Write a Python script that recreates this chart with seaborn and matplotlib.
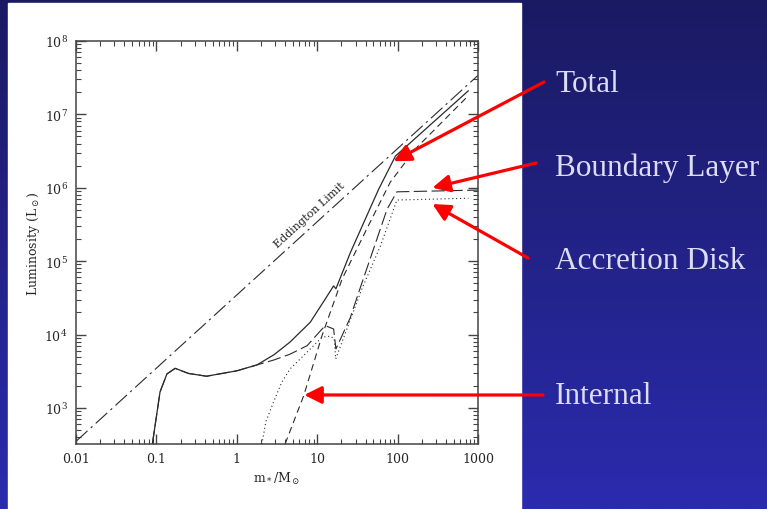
"""Stellar luminosity vs. protostellar mass slide: log-log curves with labelled arrows."""
import matplotlib.pyplot as plt
import numpy as np
import seaborn as sns
from matplotlib.patches import Rectangle

# Eddington limit
m_edd = [0.01, 1000]
L_edd = [350, 3.4e7]

# Total luminosity
m_total = [0.089, 0.111, 0.135, 0.171, 0.25, 0.42, 1.0, 1.78, 2.9, 4.6, 8.2, 12.6, 16.0, 17.1,
           25.8, 38.6, 58, 94, 760]
L_total = [320, 1650, 2900, 3460, 2950, 2700, 3200, 3850, 5300, 7900, 1.47e4, 3.05e4, 4.6e4, 4.2e4,
           1.3e5, 3.5e5, 9.5e5, 2.7e6, 2.1e7]

# Boundary layer
m_bl = [0.089, 0.111, 0.135, 0.171, 0.25, 0.42, 1.0, 1.78, 2.9, 4.6, 7.5, 11.5, 12.6, 16.0, 17.1,
        25.8, 34, 74, 98, 1000]
L_bl = [320, 1650, 2900, 3460, 2950, 2700, 3200, 3850, 4500, 5400, 7050, 1.19e4, 1.32e4, 1.19e4, 6350,
        1.7e4, 4.2e4, 5.1e5, 8.8e5, 9.3e5]

# Accretion disk
m_ad = [2.05, 2.3, 2.86, 3.6, 4.6, 8.2, 11.5, 14.6, 16.3, 17.0, 36, 61, 98, 760]
L_ad = [320, 650, 1200, 2200, 3400, 6350, 9200, 9500, 8700, 4650, 4.2e4, 1.6e5, 6.8e5, 7.2e5]

# Internal
m_int = [4.0, 6.8, 11.5, 20.4, 41.7, 81, 167, 760]
L_int = [325, 1470, 9700, 5.7e4, 2.8e5, 1.19e6, 3.4e6, 1.8e7]

x_ticks = [0.01, 0.1, 1, 10, 100, 1000]
x_tick_labels = ['0.01', '0.1', '1', '10', '100', '1000']

# slide annotations: label, arrow tip (data coords)
labels = ['Total', 'Boundary Layer', 'Accretion Disk', 'Internal']
tip_m = [89, 271, 271, 6.9]
tip_L = [2.3e6, 1.0e6, 6.0e5, 1500]

W, H = 767, 510


def run():
    sns.set_style('ticks')
    plt.rcParams['font.family'] = ['DejaVu Serif']
    plt.rcParams['mathtext.fontset'] = 'dejavuserif'

    fig = plt.figure(figsize=(W / 100, H / 100), dpi=100)

    # slide background gradient + white panel
    bg = fig.add_axes([0, 0, 1, 1])
    grad = np.linspace(0, 1, 256).reshape(-1, 1)
    bg.imshow(grad, extent=[0, 1, 0, 1], aspect='auto', origin='upper',
              cmap=sns.blend_palette(['#1a1a62', '#2b2bae'], as_cmap=True))
    bg.add_patch(Rectangle((8 / W, 0), 513 / W, 506 / H, color='white', zorder=2))
    bg.set_xlim(0, 1)
    bg.set_ylim(0, 1)
    bg.axis('off')

    ax = fig.add_axes([76 / W, 1 - 445 / H, 402 / W, 403 / H])
    ax.set_xscale('log')
    ax.set_yscale('log')

    lc = '#2a2a2a'
    sns.lineplot(x=m_edd, y=L_edd, ax=ax, color=lc, lw=0.8, linestyle=(0, (14, 4, 2, 4)),
                 sort=False, estimator=None)
    sns.lineplot(x=m_total, y=L_total, ax=ax, color=lc, lw=0.9, sort=False, estimator=None)
    sns.lineplot(x=m_bl, y=L_bl, ax=ax, color=lc, lw=0.8, linestyle=(0, (12, 4)),
                 sort=False, estimator=None)
    sns.lineplot(x=m_ad, y=L_ad, ax=ax, color=lc, lw=0.8, linestyle=(0, (1, 2.5)),
                 sort=False, estimator=None)
    sns.lineplot(x=m_int, y=L_int, ax=ax, color=lc, lw=0.8, linestyle=(0, (6, 4)),
                 sort=False, estimator=None)

    ax.set_xlim(0.01, 1000)
    ax.set_ylim(322, 1e8)
    ax.set_xticks(x_ticks)
    ax.set_xticklabels(x_tick_labels)
    ax.tick_params(which='both', direction='in', top=True, right=True, color='#444444',
                   labelsize=9, pad=6)
    ax.tick_params(which='major', length=7, width=1)
    ax.tick_params(which='minor', length=3.5, width=0.8)
    for s in ax.spines.values():
        s.set_color('#444444')
        s.set_linewidth(1.1)

    ax.set_xlabel(r'm$_*$/M$_\odot$', fontsize=9)
    ax.set_ylabel(r'Luminosity (L$_\odot$)', fontsize=9)
    ax.xaxis.set_label_coords(0.5, -0.065)
    ax.yaxis.set_label_coords(-0.085, 0.5)

    ax.text(8.0, 4.3e5, 'Eddington Limit', rotation=42.4, rotation_mode='anchor',
            ha='center', va='center', fontsize=8, color='#222222')

    # red arrows and slide text
    tails = [(544, 83), (536, 164), (528, 259), (543, 396)]
    text_y = [85, 168, 262, 397]
    for lab, tm, tL, (tx, ty), yy in zip(labels, tip_m, tip_L, tails, text_y):
        ax.annotate('', xy=(tm, tL), xycoords='data',
                    xytext=(tx / W, 1 - ty / H), textcoords='figure fraction',
                    arrowprops=dict(arrowstyle='-|>', color='#ff0000', lw=2.3,
                                    mutation_scale=26, shrinkA=0, shrinkB=0),
                    annotation_clip=False)
        fig.text(555 / W, 1 - yy / H, lab, ha='left', va='center', fontsize=22.5,
                 color='#dcdcf6', family=['Liberation Serif', 'DejaVu Serif'])

    fig.savefig('out.png', dpi=100)


if __name__ == "__main__":
    run()
